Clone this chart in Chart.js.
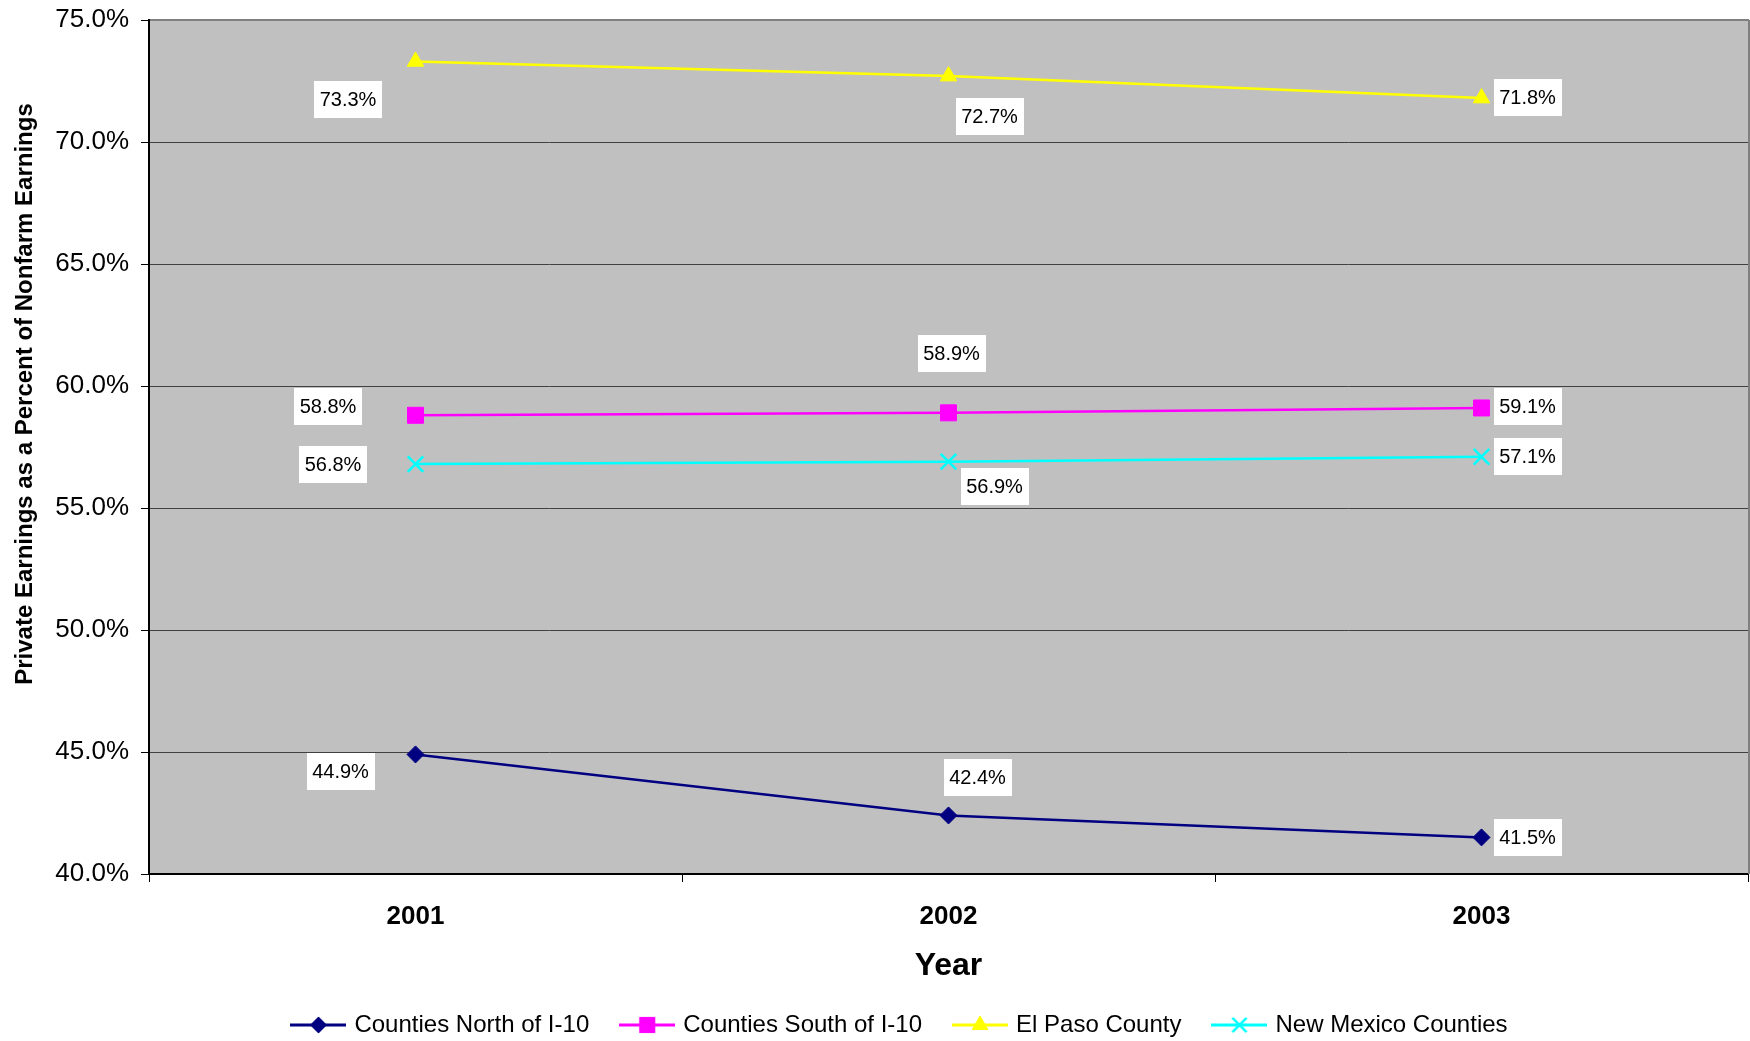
<!DOCTYPE html>
<html>
<head>
<meta charset="utf-8">
<script src="https://cdn.jsdelivr.net/npm/chart.js@4.4.0/dist/chart.umd.min.js"></script>
<style>
  html, body { margin: 0; padding: 0; background: #ffffff; }
  #wrap { width: 1750px; height: 1041px; }
</style>
</head>
<body>
<div id="wrap"><canvas id="c" width="1750" height="1041"></canvas></div>
<script>
// Private earnings as a share of nonfarm earnings, by region
const years = ['2001', '2002', '2003'];
const northOfI10 = [44.9, 42.4, 41.5];
const southOfI10 = [58.8, 58.9, 59.1];
const elPasoCounty = [73.3, 72.7, 71.8];
const newMexicoCounties = [56.8, 56.9, 57.1];
const seriesNames = ['Counties North of I-10', 'Counties South of I-10', 'El Paso County', 'New Mexico Counties'];
const yAxisTitle = 'Private Earnings as a Percent of Nonfarm Earnings';
const xAxisTitle = 'Year';

const FONT = '"Liberation Sans", Arial, Helvetica, sans-serif';

// Marker look for each series
const styles = [
  { color: '#000080', pointStyle: 'rectRot', radius: 8.5, borderWidth: 1 },
  { color: '#FF00FF', pointStyle: 'rect', radius: 11.3, borderWidth: 1 },
  { color: '#FFFF00', pointStyle: 'triangle', radius: 9.5, borderWidth: 1 },
  { color: '#00FFFF', pointStyle: 'crossRot', radius: 11, borderWidth: 2.5 }
];

// Where each value box sits relative to its point (dx, dy in px)
const labelOffsets = [
  [[-75, 17.5], [29, -37.5], [46, 0]],
  [[-87.5, -8.5], [3, -59], [46, -1]],
  [[-67.5, 38], [41, 40], [46, -1]],
  [[-82.5, 0], [46, 25], [46, 0]]
];

// Legend keys: a short line with the series marker in the middle
function makeKey(st) {
  const cv = document.createElement('canvas');
  cv.width = 56; cv.height = 24;
  const g = cv.getContext('2d');
  g.strokeStyle = st.color;
  g.lineWidth = 3;
  g.beginPath(); g.moveTo(0, 12); g.lineTo(56, 12); g.stroke();
  g.fillStyle = st.color;
  g.strokeStyle = st.color;
  g.lineWidth = st.borderWidth;
  Chart.helpers.drawPoint(g, {
    pointStyle: st.pointStyle,
    radius: st.pointStyle === 'crossRot' ? 10 : st.radius * 0.95,
    rotation: 0,
    borderWidth: st.borderWidth
  }, 28, 12);
  return cv;
}
const legendKeys = styles.map(makeKey);

const seriesValues = [northOfI10, southOfI10, elPasoCounty, newMexicoCounties];
const datasets = seriesValues.map((vals, i) => ({
  label: seriesNames[i],
  data: vals,
  borderColor: styles[i].color,
  backgroundColor: styles[i].color,
  borderWidth: 2.5,
  pointStyle: styles[i].pointStyle,
  pointRadius: styles[i].radius,
  pointHoverRadius: styles[i].radius,
  pointBorderWidth: styles[i].borderWidth,
  pointBorderColor: styles[i].color,
  pointBackgroundColor: styles[i].color,
  tension: 0,
  fill: false
}));

const plotFrame = {
  id: 'plotFrame',
  beforeDraw(chart) {
    const { ctx, chartArea: a } = chart;
    ctx.save();
    ctx.fillStyle = '#C0C0C0';
    ctx.fillRect(a.left, a.top, a.right - a.left, a.bottom - a.top);
    ctx.restore();
  },
  beforeDatasetsDraw(chart) {
    const { ctx, chartArea: a } = chart;
    ctx.save();
    ctx.strokeStyle = '#808080';
    ctx.lineWidth = 2;
    ctx.beginPath();
    ctx.moveTo(a.left + 1, a.top);
    ctx.lineTo(a.right + 1, a.top);
    ctx.moveTo(a.right + 1, a.top);
    ctx.lineTo(a.right + 1, a.bottom);
    ctx.stroke();
    ctx.restore();
  }
};

const valueLabels = {
  id: 'valueLabels',
  afterDatasetsDraw(chart, args, opts) {
    const ctx = chart.ctx;
    ctx.save();
    ctx.font = '20px ' + FONT;
    ctx.textAlign = 'center';
    ctx.textBaseline = 'middle';
    chart.data.datasets.forEach((ds, di) => {
      const meta = chart.getDatasetMeta(di);
      meta.data.forEach((pt, i) => {
        const [dx, dy] = opts.offsets[di][i];
        const text = ds.data[i].toFixed(1) + '%';
        const w = Math.round(ctx.measureText(text).width + 11);
        const h = 37;
        const cx = pt.x + dx, cy = pt.y + dy;
        ctx.fillStyle = '#ffffff';
        ctx.fillRect(Math.round(cx - w / 2), Math.round(cy - h / 2), w, h);
        ctx.fillStyle = '#000000';
        ctx.fillText(text, cx, cy + 1);
      });
    });
    ctx.restore();
  }
};

const yTitle = {
  id: 'yTitle',
  afterDraw(chart, args, opts) {
    const ctx = chart.ctx;
    ctx.save();
    ctx.translate(opts.x, opts.y);
    ctx.rotate(-Math.PI / 2);
    ctx.font = 'bold 24px ' + FONT;
    ctx.fillStyle = '#000';
    ctx.textAlign = 'center';
    ctx.textBaseline = 'middle';
    ctx.fillText(opts.text, 0, 0);
    ctx.restore();
  }
};

new Chart(document.getElementById('c'), {
  type: 'line',
  data: { labels: years, datasets },
  plugins: [plotFrame, valueLabels, yTitle],
  options: {
    responsive: false,
    animation: false,
    devicePixelRatio: 1,
    layout: { autoPadding: false, padding: { top: 20, right: 2, left: 54, bottom: -6 } },
    plugins: {
      tooltip: { enabled: false },
      valueLabels: { offsets: labelOffsets },
      yTitle: { text: yAxisTitle, x: 25, y: 394 },
      legend: {
        position: 'bottom',
        labels: {
          font: { family: FONT, size: 24 },
          color: '#000',
          usePointStyle: true,
          pointStyleWidth: 48,
          padding: 34,
          generateLabels: (chart) => chart.data.datasets.map((ds, i) => ({
            text: ds.label,
            pointStyle: legendKeys[i],
            fillStyle: 'transparent',
            strokeStyle: 'transparent',
            lineWidth: 0,
            fontColor: '#000',
            hidden: false,
            datasetIndex: i
          }))
        }
      }
    },
    scales: {
      x: {
        type: 'category',
        offset: true,
        grid: { offset: true, drawOnChartArea: false, drawTicks: true, tickLength: 8, color: '#000', lineWidth: 1 },
        border: { display: true, color: '#000', width: 2 },
        ticks: { font: { family: FONT, size: 26, weight: 'bold' }, color: '#000', padding: 19, maxRotation: 0 },
        title: { display: true, text: xAxisTitle, font: { family: FONT, size: 32, weight: 'bold' }, color: '#000', padding: { top: 0, bottom: -6 } },
        afterFit: (s) => { s.height = 105; s.paddingLeft = 0; s.paddingRight = 0; }
      },
      y: {
        min: 40,
        max: 75,
        ticks: { stepSize: 5, callback: (v) => Number(v).toFixed(1) + '%', font: { family: FONT, size: 26 }, color: '#000', padding: 12 },
        grid: { color: '#404040', lineWidth: 1, tickLength: 8, tickColor: '#000' },
        border: { display: true, color: '#000', width: 2 },
        afterFit: (s) => { s.width = 95; s.paddingTop = 0; s.paddingBottom = 0; }
      }
    }
  }
});
</script>
</body>
</html>
